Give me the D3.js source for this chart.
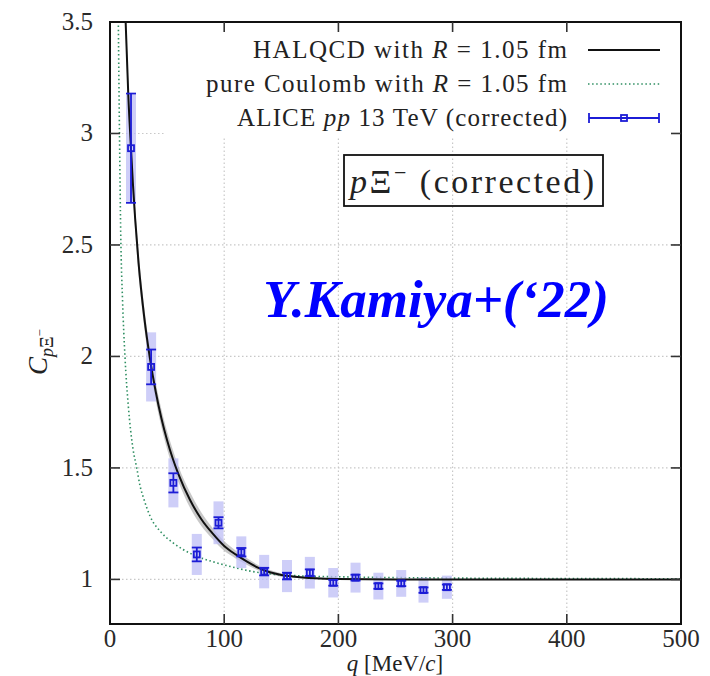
<!DOCTYPE html>
<html>
<head>
<meta charset="utf-8">
<script src="https://cdn.jsdelivr.net/npm/d3@7"></script>
<style>
  body { margin: 0; background: #fff; }
  svg text { font-family: "Liberation Serif", "Times New Roman", serif; }
</style>
</head>
<body>
<div id="chart"></div>
<script>
// ALICE pp 13 TeV p-Xi- correlation (corrected)
const dataQ    = [18.4, 36, 55.5, 76, 95, 115, 135, 155, 175, 195.5, 215, 235, 255, 274.5, 295];
const dataC    = [2.934, 1.953, 1.433, 1.112, 1.254, 1.122, 1.035, 1.015, 1.03, 0.985, 1.008, 0.97, 0.982, 0.952, 0.965];
const dataStat = [0.245, 0.078, 0.043, 0.031, 0.025, 0.019, 0.017, 0.015, 0.015, 0.013, 0.013, 0.012, 0.012, 0.012, 0.012];
const dataSys  = [0.24, 0.155, 0.11, 0.092, 0.096, 0.071, 0.075, 0.072, 0.071, 0.066, 0.067, 0.06, 0.06, 0.056, 0.052];

// HALQCD curve with R = 1.05 fm
const halQ   = [12, 13.7, 16, 18.4, 20, 22, 25, 30, 35, 40, 45, 50, 55, 60, 70, 80, 90, 100, 110, 120, 130, 140, 150, 160, 180, 200, 250, 300, 400, 500];
const halC   = [3.8, 3.5, 3.175, 2.93, 2.78, 2.62, 2.42, 2.175, 1.99, 1.843, 1.723, 1.624, 1.541, 1.471, 1.357, 1.27, 1.205, 1.15, 1.112, 1.08, 1.052, 1.032, 1.02, 1.013, 1.005, 1.002, 1.0, 1.0, 1.0, 1.0];
const halErr = [0.06, 0.06, 0.06, 0.06, 0.06, 0.055, 0.05, 0.045, 0.045, 0.04, 0.04, 0.04, 0.04, 0.035, 0.035, 0.03, 0.025, 0.022, 0.018, 0.015, 0.012, 0.01, 0.008, 0.006, 0.004, 0.003, 0.002, 0.002, 0.002, 0.002];

// pure Coulomb curve with R = 1.05 fm
const coulQ = [6.5, 7.3, 8.3, 9.4, 11, 13.1, 16, 20, 23.4, 26.3, 30, 35, 45, 55, 64, 75, 93, 110, 123, 140, 166, 210, 300, 400, 500];
const coulC = [4.0, 3.5, 3.0, 2.55, 2.25, 2.0, 1.78, 1.59, 1.5, 1.42, 1.355, 1.285, 1.21, 1.165, 1.134, 1.106, 1.075, 1.052, 1.037, 1.025, 1.016, 1.011, 1.006, 1.004, 1.003];

const xTicks = [0, 100, 200, 300, 400, 500];
const yTicks = [1, 1.5, 2, 2.5, 3, 3.5];
const legendLabels = ["HALQCD with ", "pure Coulomb with ", "ALICE "];

const W = 710, H = 676;
const m = { left: 110, right: 29, top: 22, bottom: 52 };

const svg = d3.select("#chart").append("svg")
    .attr("width", W)
    .attr("height", H);

const x = d3.scaleLinear().domain([0, 500]).range([m.left, W - m.right]);
const y = d3.scaleLinear().domain([0.8, 3.5]).range([H - m.bottom, m.top]);

const blue = "#1c1cd6";
const green = "#2f8f62";

svg.append("defs").append("clipPath").attr("id", "plotclip")
    .append("rect")
    .attr("x", x(0)).attr("y", y(3.5))
    .attr("width", x(500) - x(0)).attr("height", y(0.8) - y(3.5));

// grid
const grid = svg.append("g").attr("stroke", "#c8c8c8").attr("stroke-width", 1.2).attr("stroke-dasharray", "1.5,2.5");
grid.selectAll("line.gx").data(xTicks.filter(d => d > 0 && d < 500)).enter()
    .append("line")
    .attr("x1", d => x(d)).attr("x2", d => x(d))
    .attr("y1", y(0.8)).attr("y2", y(3.5));
grid.selectAll("line.gy").data(yTicks.filter(d => d < 3.5)).enter()
    .append("line")
    .attr("x1", x(0)).attr("x2", x(500))
    .attr("y1", d => y(d)).attr("y2", d => y(d));

// legend background hides the grid behind it
svg.append("rect")
    .attr("x", 165).attr("y", y(3.5))
    .attr("width", x(500) - 165).attr("height", 115)
    .attr("fill", "#fff");

const plot = svg.append("g").attr("clip-path", "url(#plotclip)");

// HALQCD band
const hal = halQ.map((q, i) => ({ q, c: halC[i], e: halErr[i] }));
plot.append("path")
    .datum(hal)
    .attr("fill", "#9a9a9a")
    .attr("fill-opacity", 0.55)
    .attr("d", d3.area().curve(d3.curveMonotoneX)
        .x(d => x(d.q)).y0(d => y(d.c - d.e)).y1(d => y(d.c + d.e)));

// pure Coulomb
const coul = coulQ.map((q, i) => ({ q, c: coulC[i] }));
plot.append("path")
    .datum(coul)
    .attr("fill", "none")
    .attr("stroke", green)
    .attr("stroke-width", 1.6)
    .attr("stroke-dasharray", "1.5,2.6")
    .attr("d", d3.line().curve(d3.curveMonotoneX).x(d => x(d.q)).y(d => y(d.c)));

// systematic boxes
const pts = dataQ.map((q, i) => ({ q, c: dataC[i], st: dataStat[i], sy: dataSys[i] }));
plot.selectAll("rect.sys").data(pts).enter()
    .append("rect")
    .attr("x", d => x(d.q) - 5)
    .attr("width", 10)
    .attr("y", d => y(d.c + d.sy))
    .attr("height", d => y(d.c - d.sy) - y(d.c + d.sy))
    .attr("fill", "#bdbdf5")
    .attr("fill-opacity", 0.75);

// HALQCD line
plot.append("path")
    .datum(hal)
    .attr("fill", "none")
    .attr("stroke", "#111")
    .attr("stroke-width", 2)
    .attr("d", d3.line().curve(d3.curveMonotoneX).x(d => x(d.q)).y(d => y(d.c)));

// stat error bars and markers
const eb = plot.append("g").attr("stroke", blue).attr("stroke-width", 1.8).attr("fill", "none");
eb.selectAll("line.v").data(pts).enter().append("line")
    .attr("x1", d => x(d.q)).attr("x2", d => x(d.q))
    .attr("y1", d => y(d.c - d.st)).attr("y2", d => y(d.c + d.st));
eb.selectAll("line.t").data(pts).enter().append("line")
    .attr("x1", d => x(d.q) - 5).attr("x2", d => x(d.q) + 5)
    .attr("y1", d => y(d.c + d.st)).attr("y2", d => y(d.c + d.st));
eb.selectAll("line.b").data(pts).enter().append("line")
    .attr("x1", d => x(d.q) - 5).attr("x2", d => x(d.q) + 5)
    .attr("y1", d => y(d.c - d.st)).attr("y2", d => y(d.c - d.st));
eb.selectAll("rect.mk").data(pts).enter().append("rect")
    .attr("x", d => x(d.q) - 3).attr("y", d => y(d.c) - 3)
    .attr("width", 6).attr("height", 6);

// frame and ticks
svg.append("rect")
    .attr("x", x(0)).attr("y", y(3.5))
    .attr("width", x(500) - x(0)).attr("height", y(0.8) - y(3.5))
    .attr("fill", "none").attr("stroke", "#111").attr("stroke-width", 2);

const tk = svg.append("g").attr("stroke", "#333").attr("stroke-width", 1.6);
const xIn = xTicks.filter(d => d > 0 && d < 500);
const yIn = yTicks.filter(d => d < 3.5);
tk.selectAll("line.xb").data(xIn).enter().append("line")
    .attr("x1", d => x(d)).attr("x2", d => x(d)).attr("y1", y(0.8)).attr("y2", y(0.8) - 10);
tk.selectAll("line.xt").data(xIn).enter().append("line")
    .attr("x1", d => x(d)).attr("x2", d => x(d)).attr("y1", y(3.5)).attr("y2", y(3.5) + 10);
tk.selectAll("line.yl").data(yIn).enter().append("line")
    .attr("x1", x(0)).attr("x2", x(0) + 10).attr("y1", d => y(d)).attr("y2", d => y(d));
tk.selectAll("line.yr").data(yIn).enter().append("line")
    .attr("x1", x(500)).attr("x2", x(500) - 10).attr("y1", d => y(d)).attr("y2", d => y(d));

// tick labels
svg.append("g").selectAll("text").data(xTicks).enter().append("text")
    .attr("x", d => x(d)).attr("y", y(0.8) + 23)
    .attr("text-anchor", "middle")
    .attr("font-size", 25).attr("fill", "#2a2a2a")
    .text(d => d);
svg.append("g").selectAll("text").data(yTicks).enter().append("text")
    .attr("x", x(0) - 17).attr("y", d => y(d) + 8)
    .attr("text-anchor", "end")
    .attr("font-size", 25).attr("fill", "#2a2a2a")
    .text(d => d);

// axis titles
const xt = svg.append("text")
    .attr("x", 395).attr("y", 671)
    .attr("text-anchor", "middle")
    .attr("font-size", 23).attr("fill", "#222");
xt.append("tspan").attr("font-style", "italic").text("q");
xt.append("tspan").text(" [MeV/");
xt.append("tspan").attr("font-style", "italic").text("c");
xt.append("tspan").text("]");

const yt = svg.append("text")
    .attr("transform", "translate(47,352) rotate(-90)")
    .attr("text-anchor", "middle")
    .attr("font-size", 27).attr("fill", "#222");
yt.append("tspan").attr("font-style", "italic").text("C");
yt.append("tspan").attr("font-style", "italic").attr("font-size", 18).attr("dy", 6).text("p");
yt.append("tspan").attr("font-size", 18).text("Ξ");
yt.append("tspan").attr("font-size", 13).attr("dy", -9).text("−");

// legend
const legY = [50, 84, 118];
const legW = [314, 361, 330];
legendLabels.forEach((lab, i) => {
    const t = svg.append("text")
        .attr("x", 567).attr("y", legY[i] + 8)
        .attr("text-anchor", "end")
        .attr("font-size", 25).attr("fill", "#222")
        .attr("textLength", legW[i])
        .attr("lengthAdjust", "spacing");
    if (i < 2) {
        t.append("tspan").text(lab);
        t.append("tspan").attr("font-style", "italic").text("R");
        t.append("tspan").text(" = 1.05 fm");
    } else {
        t.append("tspan").text(lab);
        t.append("tspan").attr("font-style", "italic").text("pp");
        t.append("tspan").text(" 13 TeV (corrected)");
    }
});
svg.append("line")
    .attr("x1", 588).attr("x2", 660).attr("y1", legY[0]).attr("y2", legY[0])
    .attr("stroke", "#111").attr("stroke-width", 2);
svg.append("line")
    .attr("x1", 588).attr("x2", 660).attr("y1", legY[1]).attr("y2", legY[1])
    .attr("stroke", green).attr("stroke-width", 1.6).attr("stroke-dasharray", "1.5,2.6");
const lg = svg.append("g").attr("stroke", blue).attr("stroke-width", 1.8).attr("fill", "none");
lg.append("line").attr("x1", 589).attr("x2", 659).attr("y1", legY[2]).attr("y2", legY[2]);
lg.append("line").attr("x1", 589).attr("x2", 589).attr("y1", legY[2] - 5).attr("y2", legY[2] + 5);
lg.append("line").attr("x1", 659).attr("x2", 659).attr("y1", legY[2] - 5).attr("y2", legY[2] + 5);
lg.append("rect").attr("x", 621).attr("y", legY[2] - 3).attr("width", 6).attr("height", 6);

// label box
svg.append("rect")
    .attr("x", 344).attr("y", 155).attr("width", 259).attr("height", 51)
    .attr("fill", "none").attr("stroke", "#111").attr("stroke-width", 1.8);
const bl = svg.append("text")
    .attr("x", 350).attr("y", 193)
    .attr("font-size", 34).attr("fill", "#222")
    .attr("textLength", 244)
    .attr("lengthAdjust", "spacing");
bl.append("tspan").attr("font-style", "italic").text("p");
bl.append("tspan").text("Ξ");
bl.append("tspan").attr("font-size", 22).attr("dy", -13).text("−");
bl.append("tspan").attr("dy", 13).text(" (corrected)");

// annotation
svg.append("text")
    .attr("x", 436).attr("y", 317)
    .attr("text-anchor", "middle")
    .attr("font-size", 53)
    .attr("font-weight", "bold")
    .attr("font-style", "italic")
    .attr("fill", "#0000ff")
    .text("Y.Kamiya+(‘22)");
</script>
</body>
</html>
